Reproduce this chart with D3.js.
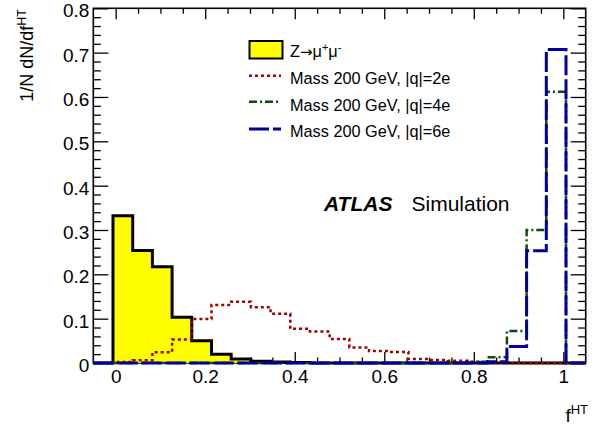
<!DOCTYPE html>
<html>
<head>
<meta charset="utf-8">
<script src="https://cdn.jsdelivr.net/npm/d3@7"></script>
<style>
  html, body { margin: 0; padding: 0; background: #fff; }
  svg { display: block; font-family: "Liberation Sans", Arial, Helvetica, sans-serif; }
</style>
</head>
<body>
<svg id="chart" width="601" height="427"></svg>
<script>
// ---- data ----
const xEdges = [-0.05, -0.006, 0.038, 0.082, 0.126, 0.17, 0.214, 0.258, 0.302, 0.346,
  0.39, 0.434, 0.478, 0.522, 0.566, 0.61, 0.654, 0.698, 0.742, 0.786, 0.83,
  0.874, 0.918, 0.962, 1.006, 1.05];
const zmumu = [0, 0.332, 0.254, 0.217, 0.103, 0.050, 0.020, 0.009, 0.004, 0.002, 0.001,
  0, 0, 0, 0, 0, 0, 0, 0, 0, 0, 0, 0, 0, 0];
const q2e = [0, 0.002, 0.006, 0.024, 0.053, 0.099, 0.131, 0.138, 0.126, 0.111, 0.077,
  0.071, 0.054, 0.035, 0.027, 0.025, 0.009, 0.007, 0.005, 0.003, 0.001, 0, 0, 0, 0];
const q4e = [0, 0, 0, 0, 0, 0, 0, 0, 0, 0, 0, 0, 0, 0, 0, 0, 0, 0, 0, 0.002, 0.013,
  0.072, 0.300, 0.612, 0];
const q6e = [0, 0, 0, 0, 0, 0, 0, 0, 0, 0, 0, 0, 0, 0, 0, 0, 0, 0, 0, 0, 0.003,
  0.037, 0.253, 0.707, 0];
const xMajorTicks = [0, 0.2, 0.4, 0.6, 0.8, 1];
const xTickLabels = ["0", "0.2", "0.4", "0.6", "0.8", "1"];
const yMajorTicks = [0, 0.1, 0.2, 0.3, 0.4, 0.5, 0.6, 0.7, 0.8];
const yTickLabels = ["0", "0.1", "0.2", "0.3", "0.4", "0.5", "0.6", "0.7", "0.8"];
const legendLabels = ["Mass 200 GeV, |q|=2e", "Mass 200 GeV, |q|=4e", "Mass 200 GeV, |q|=6e"];

// ---- layout ----
const svg = d3.select("#chart");
const x = d3.scaleLinear().domain([-0.05, 1.05]).range([93.3, 585.7]);
const y = d3.scaleLinear().domain([0, 0.8]).range([363, 8.3]);

const xMinor = d3.range(0, 21).map(i => i * 0.05).filter(v => !xMajorTicks.some(m => Math.abs(m - v) < 1e-9));
const yMinor = d3.range(0, 41).map(i => i * 0.02).filter(v => !yMajorTicks.some(m => Math.abs(m - v) < 1e-9));

function styleAxis(g) {
  g.select(".domain").remove();
  g.selectAll(".tick line").attr("stroke", "#000").attr("stroke-width", 1.3);
  g.selectAll(".tick text").attr("fill", "#000").style("font-size", "19px")
    .style("font-family", '"Liberation Sans", Arial, sans-serif');
}

// bottom axis
svg.append("g").attr("transform", `translate(0,${y(0)})`)
  .call(d3.axisBottom(x).tickValues(xMajorTicks).tickSize(-11).tickPadding(7)
    .tickFormat((d, i) => xTickLabels[i])).call(styleAxis);
svg.append("g").attr("transform", `translate(0,${y(0)})`)
  .call(d3.axisBottom(x).tickValues(xMinor).tickSize(-5.5).tickFormat("")).call(styleAxis);
// top axis
svg.append("g").attr("transform", `translate(0,${y(0.8)})`)
  .call(d3.axisTop(x).tickValues(xMajorTicks).tickSize(-11).tickFormat("")).call(styleAxis);
svg.append("g").attr("transform", `translate(0,${y(0.8)})`)
  .call(d3.axisTop(x).tickValues(xMinor).tickSize(-5.5).tickFormat("")).call(styleAxis);
// left axis
const yAxisG = svg.append("g").attr("transform", `translate(${x(-0.05)},0)`)
  .call(d3.axisLeft(y).tickValues(yMajorTicks).tickSize(-15).tickPadding(4)
    .tickFormat((d, i) => yTickLabels[i])).call(styleAxis);
yAxisG.selectAll(".tick text").attr("dy", "0.45em");
svg.append("g").attr("transform", `translate(${x(-0.05)},0)`)
  .call(d3.axisLeft(y).tickValues(yMinor).tickSize(-7.5).tickFormat("")).call(styleAxis);
// right axis
svg.append("g").attr("transform", `translate(${x(1.05)},0)`)
  .call(d3.axisRight(y).tickValues(yMajorTicks).tickSize(-15).tickFormat("")).call(styleAxis);
svg.append("g").attr("transform", `translate(${x(1.05)},0)`)
  .call(d3.axisRight(y).tickValues(yMinor).tickSize(-7.5).tickFormat("")).call(styleAxis);

// frame
svg.append("rect")
  .attr("x", x(-0.05)).attr("y", y(0.8))
  .attr("width", x(1.05) - x(-0.05)).attr("height", y(0) - y(0.8))
  .attr("fill", "none").attr("stroke", "#000").attr("stroke-width", 1.6);

// ---- histograms ----
function stepPoints(vals) {
  const pts = [[xEdges[0], 0]];
  vals.forEach((v, i) => { pts.push([xEdges[i], v]); pts.push([xEdges[i + 1], v]); });
  pts.push([xEdges[xEdges.length - 1], 0]);
  return pts;
}
const line = d3.line().x(d => x(d[0])).y(d => y(d[1]));
const area = d3.area().x(d => x(d[0])).y0(y(0)).y1(d => y(d[1]));

svg.append("path").attr("d", area(stepPoints(zmumu))).attr("fill", "#ffff00");
svg.append("path").attr("d", line(stepPoints(zmumu)))
  .attr("fill", "none").attr("stroke", "#000").attr("stroke-width", 3).attr("stroke-linejoin", "miter");

const series = [
  { vals: q2e, color: "#a00000", width: 2.5, dash: "3,3" },
  { vals: q4e, color: "#0b4d0b", width: 2.5, dash: "8,3,2,3" },
  { vals: q6e, color: "#00009c", width: 3, dash: "20,4" }
];
series.forEach(s => {
  svg.append("path").attr("d", line(stepPoints(s.vals)))
    .attr("fill", "none").attr("stroke", s.color).attr("stroke-width", s.width)
    .attr("stroke-dasharray", s.dash);
});

// ---- legend ----
const leg = svg.append("g").style("font-size", "16.3px").attr("fill", "#000");
leg.append("rect").attr("x", 249.5).attr("y", 41).attr("width", 33).attr("height", 17.5)
  .attr("fill", "#ffff00").attr("stroke", "#000").attr("stroke-width", 2);
const zt = leg.append("text").attr("x", 290).attr("y", 57);
zt.append("tspan").text("Z");
zt.append("tspan").style("font-family", '"DejaVu Sans", sans-serif').style("font-size", "15px").text("\u2192");
zt.append("tspan").text("\u03BC");
zt.append("tspan").attr("dy", -6).style("font-size", "11px").text("+");
zt.append("tspan").attr("dy", 6).text("\u03BC");
zt.append("tspan").attr("dy", -6).style("font-size", "11px").text("-");
const legY = [75.7, 101.7, 129];
const legBase = [84, 110.5, 137];
series.forEach((s, i) => {
  leg.append("line").attr("x1", 249).attr("x2", 281).attr("y1", legY[i]).attr("y2", legY[i])
    .attr("stroke", s.color).attr("stroke-width", s.width).attr("stroke-dasharray", s.dash);
  leg.append("text").attr("x", 290).attr("y", legBase[i]).text(legendLabels[i]);
});

// ---- ATLAS label ----
svg.append("text").attr("x", 324).attr("y", 211).style("font-size", "21px")
  .style("font-weight", "bold").style("font-style", "italic").text("ATLAS");
svg.append("text").attr("x", 411.5).attr("y", 211).style("font-size", "21px").text("Simulation");

// ---- axis titles ----
const yt = svg.append("text").attr("transform", "translate(33,9) rotate(-90)")
  .attr("text-anchor", "end").style("font-size", "18px");
yt.append("tspan").text("1/N dN/df");
yt.append("tspan").attr("dy", -7).style("font-size", "12.5px").text("HT");

const xt = svg.append("text").attr("x", 588).attr("y", 421.5)
  .attr("text-anchor", "end").style("font-size", "19px");
xt.append("tspan").text("f");
xt.append("tspan").attr("dy", -8).style("font-size", "13px").text("HT");
</script>
</body>
</html>
